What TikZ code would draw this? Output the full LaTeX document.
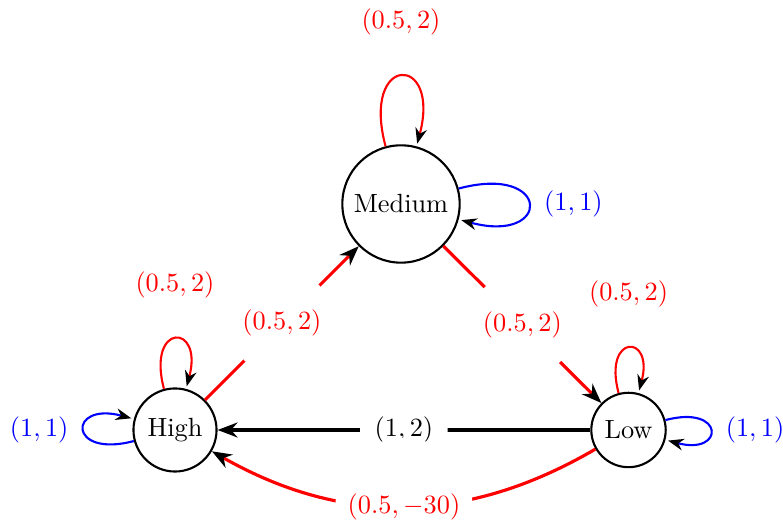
\documentclass[tikz,border=0pt]{standalone}
\usetikzlibrary{arrows.meta}
\begin{document}
\begin{tikzpicture}[x=0.38pt,y=0.38pt,
  >={Stealth[scale=0.9,color=black]},
  state/.style={circle,draw,thick,inner sep=3.33pt},
  lbl/.style={circle,inner sep=3.33pt},
  onlbl/.style={circle,fill=white,inner sep=3.33pt},
  redge/.style={->,red,very thick},
  kedge/.style={->,black,very thick},
  rloop/.style={->,red,thick},
  bloop/.style={->,blue,thick}]
\useasboundingbox (0,0) rectangle (783,520);
\node[state] (M) at (401,316) {Medium};
\node[state] (H) at (175,90) {High};
\node[state] (L) at (628.5,90) {Low};
% main edges
\path (H) edge[redge] node[onlbl,text=red] {$(0.5,2)$} (M);
\path (M) edge[redge] node[onlbl,text=red] {$(0.5,2)$} (L);
\path (L) edge[kedge] node[onlbl,text=black] {$(1,2)$} (H);
\path (L) edge[redge,bend left] node[onlbl,text=red] {$(0.5,-30)$} (H);
% loops
\path (M) edge[rloop,loop above] node[lbl,above,text=red] {$(0.5,2)$} (M);
\path (M) edge[bloop,loop right] node[lbl,right,text=blue] {$(1,1)$} (M);
\path (H) edge[rloop,loop above] node[lbl,above,text=red] {$(0.5,2)$} (H);
\path (H) edge[bloop,loop left] node[lbl,left,text=blue] {$(1,1)$} (H);
\path (L) edge[rloop,loop above] node[lbl,above,text=red] {$(0.5,2)$} (L);
\path (L) edge[bloop,loop right] node[lbl,right,text=blue] {$(1,1)$} (L);
\end{tikzpicture}
\end{document}
